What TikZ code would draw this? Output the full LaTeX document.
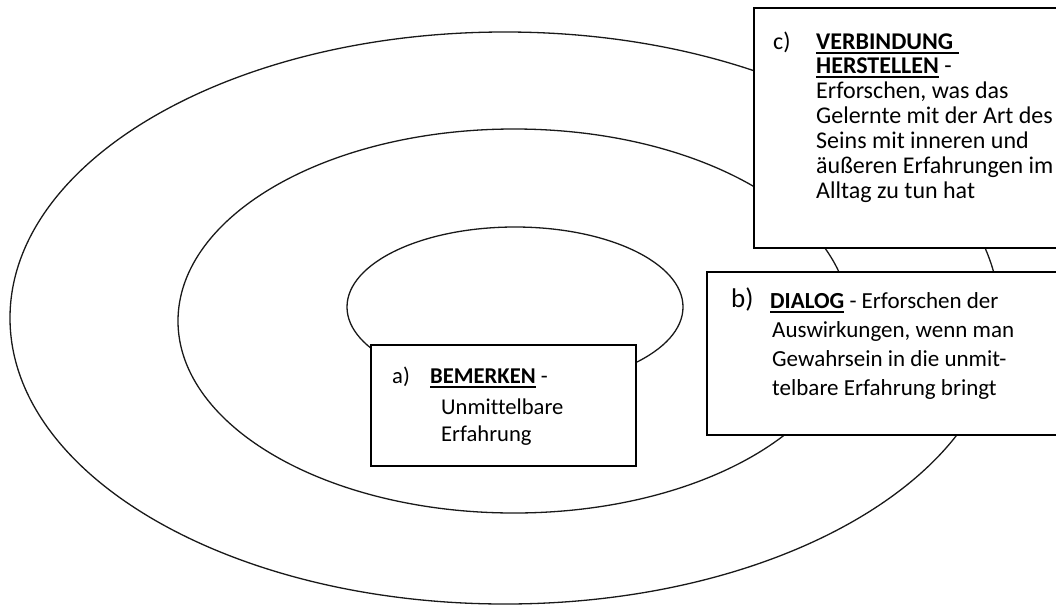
\documentclass[tikz,border=0pt]{standalone}
\usepackage{fontspec}
\setmainfont{Carlito}[Ligatures=NoCommon]
\newcommand\myul[1]{\setbox0\hbox{#1}\rlap{\rule[-4.5pt]{\wd0}{1.8pt}}\box0\relax}
\begin{document}
\begin{tikzpicture}[x=1pt,y=-1pt,
  ring/.style={draw=black!90,line width=1.3pt},
  box/.style={draw=black,line width=1.6pt,fill=white},
  ta/.style={anchor=base west,inner sep=0pt,font=\fontsize{22.6}{26}\selectfont},
  tb/.style={anchor=base west,inner sep=0pt,font=\fontsize{23}{28}\selectfont},
  tc/.style={anchor=base west,inner sep=0pt,font=\fontsize{24}{25}\selectfont}]
\useasboundingbox (0,0) rectangle (1056,608);
\clip (0,0) rectangle (1056,608);
\fill[white] (0,0) rectangle (1056,608);
% rings
\draw[ring] (505,318) ellipse [x radius=495, y radius=286];
\draw[ring] (514,321) ellipse [x radius=336, y radius=192];
\draw[ring] (515,307) ellipse [x radius=168, y radius=80];
% boxes
\draw[box] (371,345) rectangle (636,466);
\draw[box] (707,272) rectangle (1070,435);
\draw[box] (754,8) rectangle (1070,248);
% box a
\node[ta] (alab) at (392,383) {a)};
\node[ta] (a1) at (430,383) {\myul{\textbf{BEMERKEN}} -};
\node[ta] (a2) at (441,414) {Unmittelbare};
\node[ta] (a3) at (441,441) {Erfahrung};
% box b
\node[tb,font=\fontsize{27}{32}\selectfont] (blab) at (731,307) {b)};
\node[tb] (b1) at (770,308) {\myul{\textbf{DIALOG}} - Erforschen der};
\node[tb] (b2) at (772,337) {Auswirkungen, wenn man};
\node[tb] (b3) at (772,366) {Gewahrsein in die unmit-};
\node[tb] (b4) at (772,395) {telbare Erfahrung bringt};
% box c
\node[tc] (clab) at (773,49) {c)};
\node[tc] (c1) at (816,49) {\myul{\textbf{VERBINDUNG\ }}};
\node[tc] (c2) at (816,73) {\myul{\textbf{HERSTELLEN}} -};
\node[tc] (c3) at (816,98) {Erforschen, was das};
\node[tc] (c4) at (816,123) {Gelernte mit der Art des};
\node[tc] (c5) at (816,148) {Seins mit inneren und};
\node[tc] (c6) at (816,173) {äußeren Erfahrungen im};
\node[tc] (c7) at (816,198) {Alltag zu tun hat};
\end{tikzpicture}
\end{document}
